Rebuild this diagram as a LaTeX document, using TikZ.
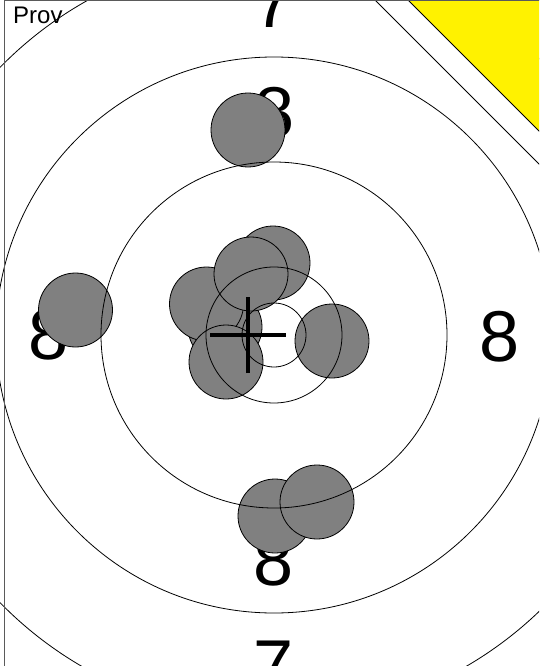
\documentclass[tikz,border=0pt]{standalone}
\usepackage{fontspec}
\setmainfont{Liberation Sans}
\begin{document}
\begin{tikzpicture}[x=1pt,y=-1pt,
  ring/.style={draw=black,line width=0.8pt},
  shot/.style={circle,draw=black,line width=0.8pt,fill={rgb,255:red,128;green,128;blue,128},minimum size=74pt,inner sep=0pt},
  num/.style={anchor=base,inner sep=0pt,font=\fontsize{72}{72}\selectfont},
  crossline/.style={draw=black,line width=4pt}]
\useasboundingbox (0,0) rectangle (539,666);
\clip (0,0) rectangle (539,666);
\fill[white] (0,0) rectangle (539,666);
% label
\node[anchor=base west,inner sep=0pt,font=\fontsize{24}{24}\selectfont] (prov) at (13,24) {Prov};
% ring numbers
\node[num] (n7t) at (274,28) {7};
\node[num] (n8t) at (275,137) {8};
\node[num] (n8l) at (49,359) {8};
\node[num] (n8r) at (500,361) {8};
\node[num] (n8b) at (274,585) {8};
\node[num] (n7b) at (274,690) {7};
% shots
\node[shot] (s1) at (248,130) {};
\node[shot] (s2) at (75.5,310) {};
\node[shot] (s3) at (275,516) {};
\node[shot] (s4) at (317,502) {};
\node[shot] (s5) at (225,327) {};
\node[shot] (s6) at (273,263) {};
\node[shot] (s7) at (206.5,304) {};
\node[shot] (s8) at (251,274) {};
\node[shot] (s9) at (226,362) {};
\node[shot] (s10) at (332,341) {};
% rings
\coordinate (c) at (274,335);
\draw[ring] (c) circle[radius=32];
\draw[ring] (c) circle[radius=68];
\draw[ring] (c) circle[radius=173];
\draw[ring] (c) circle[radius=278];
\draw[ring] (c) circle[radius=383];
% mean point of impact
\coordinate (m) at (248,335);
\draw[crossline] ([xshift=-38pt]m) -- ([xshift=38pt]m);
\draw[crossline] ([yshift=-38pt]m) -- ([yshift=38pt]m);
% corner card (covers the rings)
\fill[white] (374,-1) -- (541,-1) -- (541,166) -- cycle;
\fill[yellow] (407,-1) -- (541,-1) -- (541,133) -- cycle;
\draw[line width=0.8pt] (407,-1) -- (541,133);
\draw[line width=0.8pt] (374,-1) -- (541,166);
% frame
\draw[line width=1.2pt,draw={rgb,255:red,90;green,90;blue,90}] (4.5,700) -- (4.5,0.6) -- (545,0.6);
\end{tikzpicture}
\end{document}
